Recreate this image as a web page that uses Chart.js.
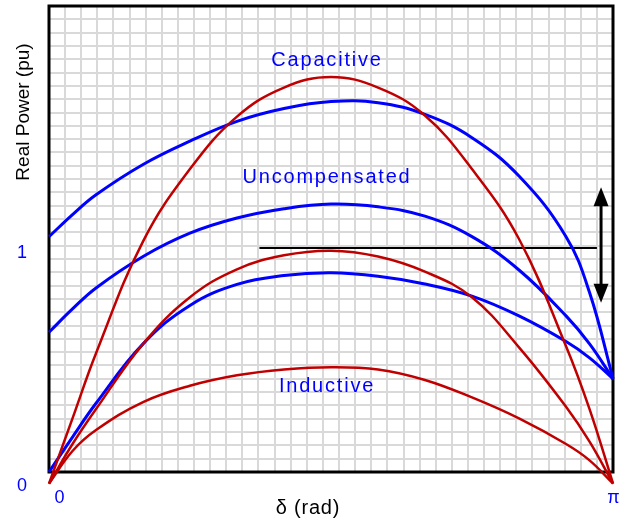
<!DOCTYPE html>
<html>
<head>
<meta charset="utf-8">
<script src="https://cdn.jsdelivr.net/npm/chart.js@4/dist/chart.umd.min.js"></script>
<style>
html,body{margin:0;padding:0;background:#ffffff;}
#wrap{width:623px;height:521px;position:relative;}
</style>
</head>
<body>
<div id="wrap"><canvas id="c" width="623" height="521"></canvas></div>
<script>
// δ sample positions (rad)
const deltas = [0, 0.131, 0.262, 0.524, 0.785, 1.047, 1.309, 1.571, 1.833, 2.094, 2.356, 2.618, 2.880, 3.011, 3.142];

// Blue curves (compensated / uncompensated)
const capacitive    = [1.06, 1.155, 1.24, 1.37, 1.47, 1.555, 1.61, 1.64, 1.635, 1.585, 1.485, 1.32, 1.06, 0.82, 0.45];
const uncompensated = [0.65, 0.75, 0.84, 0.975, 1.075, 1.14, 1.18, 1.20, 1.188, 1.148, 1.06, 0.917, 0.72, 0.60, 0.45];
const inductiveBlue = [0.05, 0.20, 0.345, 0.60, 0.765, 0.855, 0.893, 0.905, 0.89, 0.857, 0.805, 0.72, 0.61, 0.54, 0.45];

// Red curves
const redLarge  = [0, 0.28, 0.56, 1.04, 1.35, 1.575, 1.70, 1.745, 1.70, 1.58, 1.35, 1.05, 0.59, 0.32, 0];
const redMedium = [0, 0.17, 0.32, 0.60, 0.80, 0.92, 0.98, 1.0, 0.975, 0.91, 0.80, 0.585, 0.33, 0.18, 0];
const redSmall  = [0, 0.14, 0.23, 0.35, 0.42, 0.465, 0.49, 0.50, 0.49, 0.445, 0.37, 0.28, 0.17, 0.10, 0];

// Mechanical power line and arrow
const pmDelta = [1.172, 3.052];
const pmValue = [1.011, 1.011];
const arrowDelta = 3.075;
const arrowSpan = [0.776, 1.272];

// Curve labels
const curveLabels = ['Capacitive', 'Uncompensated', 'Inductive'];
const curveLabelDelta = [1.543, 1.543, 1.543];
const curveLabelValue = [1.818, 1.314, 0.415];

// Axis ticks and titles
const xTickValues = [0, 3.1416];
const xTickLabels = ['0', 'π'];
const yTickValues = [0, 1];
const yTickLabels = ['0', '1'];
const xTitle = 'δ (rad)';
const yTitle = 'Real Power (pu)';

const BLUE = '#0000ff';
const RED = '#c00000';
const FONT = "'Liberation Sans', Arial, sans-serif";

function pts(ys) { return deltas.map((d, i) => ({x: d, y: ys[i]})); }

function curve(ys, color, width) {
  return {
    data: pts(ys), borderColor: color, borderWidth: width, pointRadius: 0,
    tension: 0.4, fill: false, clip: false
  };
}

const decor = {
  id: 'decor',
  beforeDatasetsDraw(chart) {
    const {ctx, chartArea: a} = chart;
    ctx.save();
    ctx.strokeStyle = '#000';
    ctx.lineWidth = 3;
    ctx.strokeRect(a.left, a.top, a.right - a.left, a.bottom - a.top);
    ctx.restore();
  },
  afterDatasetsDraw(chart) {
    const {ctx, scales: {x, y}} = chart;
    ctx.save();
    // double arrow
    const ax = x.getPixelForValue(arrowDelta);
    const yb = y.getPixelForValue(arrowSpan[0]);
    const yt = y.getPixelForValue(arrowSpan[1]);
    const hl = 19, hw = 7.5;
    ctx.strokeStyle = '#000'; ctx.fillStyle = '#000'; ctx.lineWidth = 3;
    ctx.beginPath(); ctx.moveTo(ax, yt + hl - 2); ctx.lineTo(ax, yb - hl + 2); ctx.stroke();
    ctx.beginPath(); ctx.moveTo(ax, yt); ctx.lineTo(ax - hw, yt + hl); ctx.lineTo(ax + hw, yt + hl); ctx.closePath(); ctx.fill();
    ctx.beginPath(); ctx.moveTo(ax, yb); ctx.lineTo(ax - hw, yb - hl); ctx.lineTo(ax + hw, yb - hl); ctx.closePath(); ctx.fill();

    // curve labels
    ctx.fillStyle = BLUE;
    ctx.font = '20px ' + FONT;
    ctx.textAlign = 'center';
    ctx.textBaseline = 'middle';
    try { ctx.letterSpacing = '1.8px'; } catch (e) {}
    curveLabels.forEach((t, i) => {
      ctx.fillText(t, x.getPixelForValue(curveLabelDelta[i]) + 1, y.getPixelForValue(curveLabelValue[i]));
    });
    try { ctx.letterSpacing = '0px'; } catch (e) {}

    // tick labels
    ctx.font = '18px ' + FONT;
    ctx.fillStyle = BLUE;
    yTickValues.forEach((v, i) => {
      ctx.fillText(yTickLabels[i], 22, y.getPixelForValue(v) + 2.5);
    });
    const xOff = [10.5, 0.5];
    xTickValues.forEach((v, i) => {
      ctx.fillText(xTickLabels[i], x.getPixelForValue(v) + xOff[i], chart.chartArea.bottom + 26);
    });

    // axis titles
    ctx.fillStyle = '#000';
    ctx.font = '20px ' + FONT;
    try { ctx.letterSpacing = '0.8px'; } catch (e) {}
    ctx.fillText(xTitle, 308, 508);
    try { ctx.letterSpacing = '0px'; } catch (e) {}
    ctx.font = '19px ' + FONT;
    ctx.save();
    ctx.translate(24, 112);
    ctx.rotate(-Math.PI / 2);
    ctx.fillText(yTitle, 0, 0);
    ctx.restore();
    ctx.restore();
  }
};

new Chart(document.getElementById('c'), {
  type: 'line',
  data: {
    datasets: [
      curve(redSmall, RED, 2.5),
      curve(redMedium, RED, 2.5),
      curve(redLarge, RED, 2.5),
      curve(inductiveBlue, BLUE, 3),
      curve(uncompensated, BLUE, 3),
      curve(capacitive, BLUE, 3),
      {
        data: pmDelta.map((d, i) => ({x: d, y: pmValue[i]})),
        borderColor: '#000', borderWidth: 2, pointRadius: 0, tension: 0, clip: false
      }
    ]
  },
  options: {
    responsive: false,
    animation: false,
    devicePixelRatio: 1,
    layout: {padding: {left: 49, right: 10, top: 6, bottom: 49}},
    plugins: {legend: {display: false}, tooltip: {enabled: false}},
    scales: {
      x: {
        type: 'linear', min: 0, max: Math.PI,
        ticks: {display: false},
        grid: {color: '#d9d9d9', lineWidth: 2, drawTicks: false},
        border: {display: false},
        afterBuildTicks: s => { s.ticks = Array.from({length: 36}, (_, k) => ({value: k * Math.PI / 35})); }
      },
      y: {
        type: 'linear', min: 0.05, max: 2.05,
        ticks: {display: false},
        grid: {color: '#d9d9d9', lineWidth: 2, drawTicks: false},
        border: {display: false},
        afterBuildTicks: s => { s.ticks = Array.from({length: 36}, (_, k) => ({value: 0.05 + k * 2 / 35})); }
      }
    }
  },
  plugins: [decor]
});
</script>
</body>
</html>
